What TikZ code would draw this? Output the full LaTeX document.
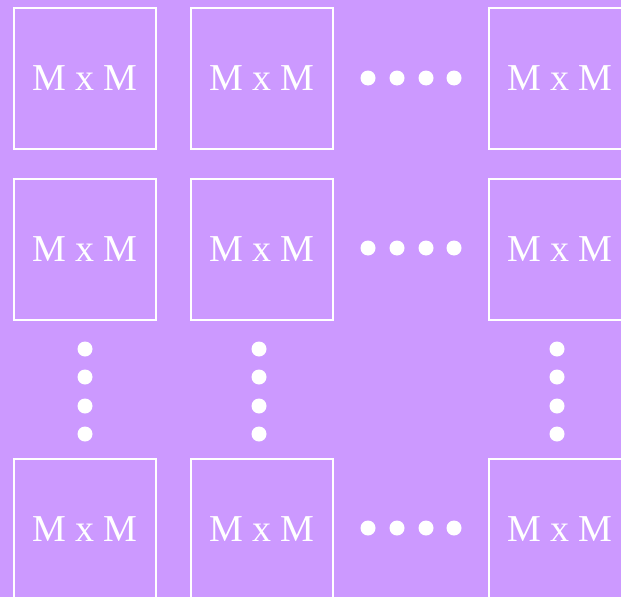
\documentclass[tikz,border=0pt]{standalone}
\usepackage{fontspec}
\setmainfont{Liberation Serif}
\definecolor{lilac}{HTML}{CC99FF}
\begin{document}
\begin{tikzpicture}[x=1pt, y=-1pt]
    \tikzstyle{block} = [rectangle, draw=white, line width=2pt, minimum width=142pt, minimum height=141pt, inner sep=0pt, text=white, font=\fontsize{38}{38}\selectfont]
    \tikzstyle{dot} = [circle, fill=white, minimum size=15pt, inner sep=0pt]

    % Background and frame
    \clip (0,0) rectangle (621,597);
    \fill [lilac] (0,0) rectangle (621,597);

    % First row
    \node [block] (b11) at (85,78.5) {M x M};
    \node [block] (b12) at (262,78.5) {M x M};
    \node [block] (b13) at (560,78.5) {M x M};

    % Second row
    \node [block] (b21) at (85,249) {M x M};
    \node [block] (b22) at (262,249) {M x M};
    \node [block] (b23) at (560,249) {M x M};

    % Last row
    \node [block] (b31) at (85,529.5) {M x M};
    \node [block] (b32) at (262,529.5) {M x M};
    \node [block] (b33) at (560,529.5) {M x M};

    % Horizontal dots
    \foreach \y/\r in {78/1, 248/2, 528/3}
        \foreach \x [count=\i] in {368,397,426,454}
            \node [dot] (row\r dot\i) at (\x,\y) {};

    % Vertical dots
    \foreach \x/\c in {85/1, 259/2, 557/3}
        \foreach \y [count=\i] in {349,377,406,434}
            \node [dot] (col\c dot\i) at (\x,\y) {};
\end{tikzpicture}
\end{document}
